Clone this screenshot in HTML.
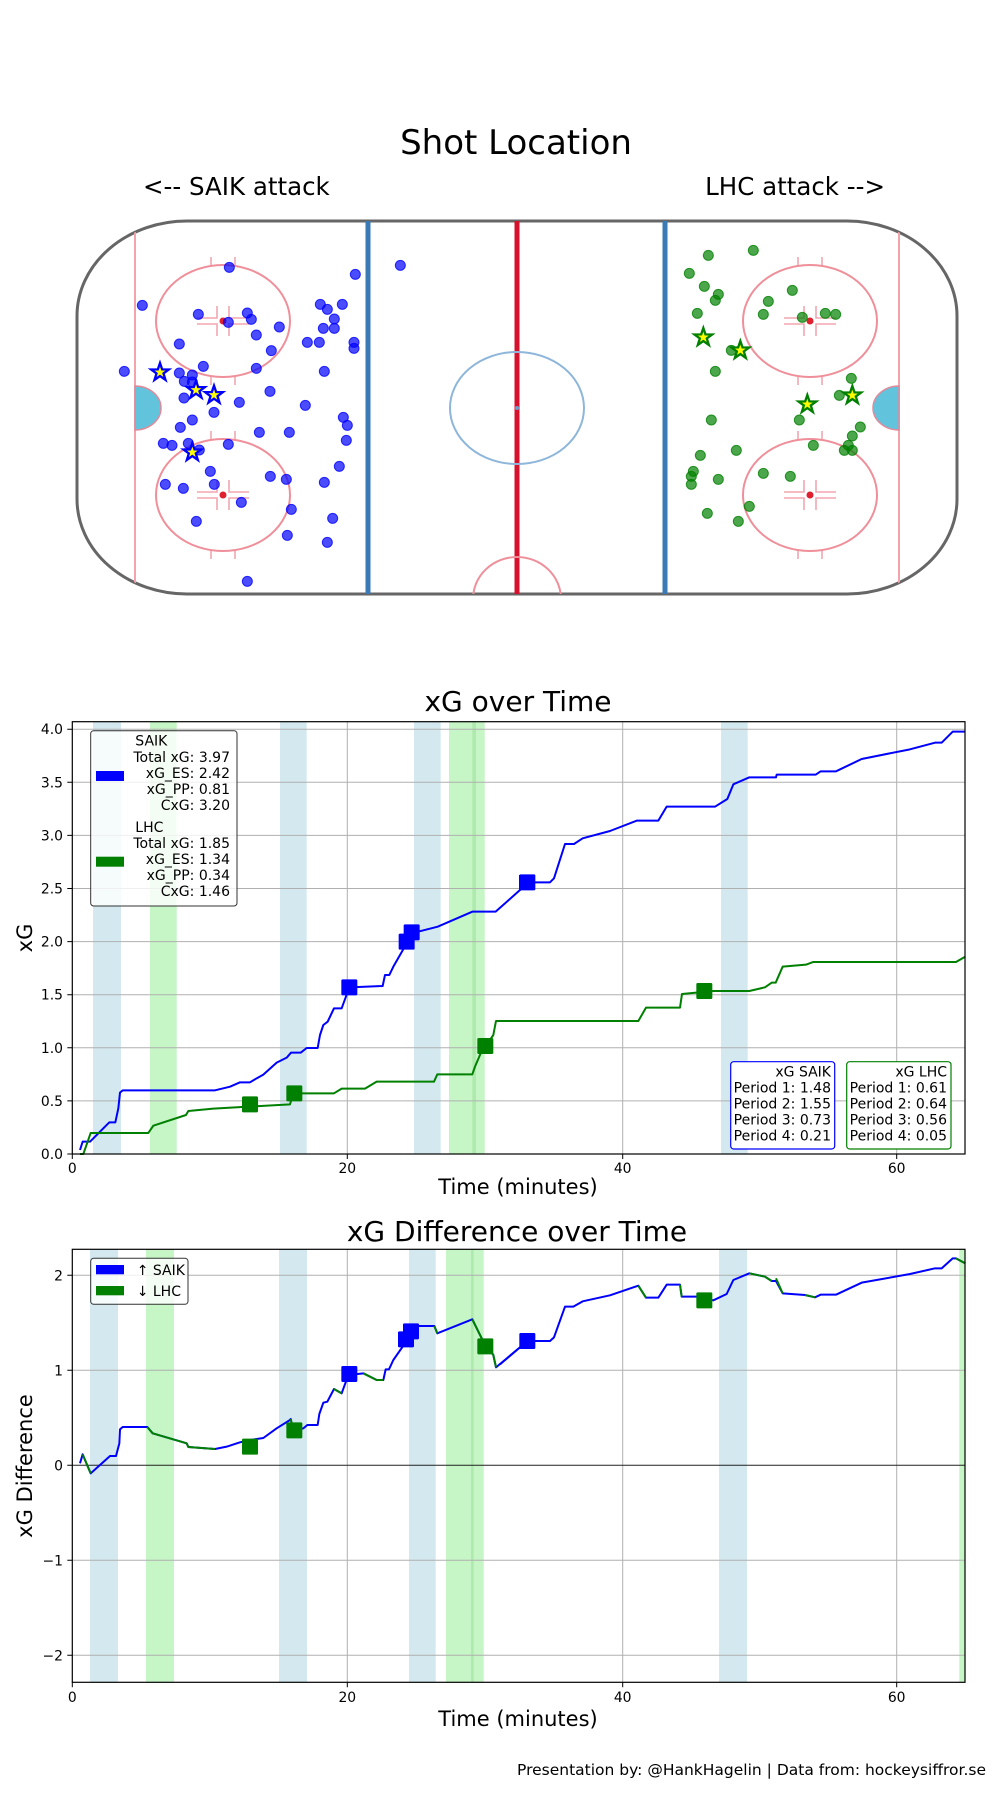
<!DOCTYPE html>
<html><head><meta charset="utf-8">
<style>
html,body{margin:0;padding:0;background:#fff;}
svg{display:block;font-family:"DejaVu Sans","Liberation Sans",sans-serif;}
</style></head>
<body>
<svg width="1000" height="1800" viewBox="0 0 1000 1800" xmlns="http://www.w3.org/2000/svg">
<defs>
<path id="star" d="M0,-28 L6.47,-8.9 L26.6,-8.65 L10.46,3.4 L16.46,22.65 L0,11 L-16.46,22.65 L-10.46,3.4 L-26.6,-8.65 L-6.47,-8.9 Z"/>
<clipPath id="rinkclip"><rect x="77" y="221" width="880" height="373" rx="110" ry="95"/></clipPath>
</defs>
<rect width="1000" height="1800" fill="#fff"/>

<!-- ===== Shot location ===== -->
<text x="516" y="154" font-size="34" text-anchor="middle">Shot Location</text>
<text x="143" y="195" font-size="24.5">&lt;-- SAIK attack</text>
<text x="885" y="195" font-size="24.5" text-anchor="end">LHC attack --&gt;</text>

<rect x="77" y="221" width="880" height="373" rx="110" ry="95" fill="#fff" stroke="#666" stroke-width="3"/>
<g clip-path="url(#rinkclip)">
 <line x1="135" y1="221" x2="135" y2="594" stroke="#f4a3ad" stroke-width="2"/>
 <line x1="899" y1="221" x2="899" y2="594" stroke="#f4a3ad" stroke-width="2"/>
 <line x1="368" y1="221" x2="368" y2="594" stroke="#3a7bb6" stroke-width="5"/>
 <line x1="665" y1="221" x2="665" y2="594" stroke="#3a7bb6" stroke-width="5"/>
 <line x1="517" y1="221" x2="517" y2="594" stroke="#d7102c" stroke-width="5"/>
 <ellipse cx="517" cy="408" rx="67" ry="56" fill="none" stroke="#8db6da" stroke-width="2"/>
 <circle cx="517" cy="408" r="2" fill="#6aa0d0"/>
 <ellipse cx="517" cy="599" rx="44" ry="42" fill="none" stroke="#ef8f9a" stroke-width="2"/>
 <path d="M135,386 A26,22 0 0 1 135,430 Z" fill="#62c3dd" stroke="#e08a9a" stroke-width="1.5"/>
 <path d="M899,386 A26,22 0 0 0 899,430 Z" fill="#62c3dd" stroke="#e08a9a" stroke-width="1.5"/>
 <g fill="none" stroke="#ef8f9a" stroke-width="2">
  <ellipse cx="223" cy="321" rx="67" ry="56"/>
  <ellipse cx="223" cy="495" rx="67" ry="56"/>
  <ellipse cx="810" cy="321" rx="67" ry="56"/>
  <ellipse cx="810" cy="495" rx="67" ry="56"/>
 </g>
 <g stroke="#f2a6b0" stroke-width="1.6" fill="none">
  <path d="M211,257v8M235,257v8M211,377v8M235,377v8M211,431v8M235,431v8M211,551v8M235,551v8"/>
  <path d="M798,257v8M822,257v8M798,377v8M822,377v8M798,431v8M822,431v8M798,551v8M822,551v8"/>
  <path d="M197,318h20v-12M197,324h20v12M249,318h-20v-12M249,324h-20v12"/>
  <path d="M197,492h20v-12M197,498h20v12M249,492h-20v-12M249,498h-20v12"/>
  <path d="M784,318h20v-12M784,324h20v12M836,318h-20v-12M836,324h-20v12"/>
  <path d="M784,492h20v-12M784,498h20v12M836,492h-20v-12M836,498h-20v12"/>
 </g>
 <g fill="#e0202e"><circle cx="223" cy="321" r="3.5"/><circle cx="223" cy="495" r="3.5"/><circle cx="810" cy="321" r="3.5"/><circle cx="810" cy="495" r="3.5"/></g>
</g>

<g transform="translate(60,160) scale(0.33333)" fill="rgba(0,0,255,0.7)" stroke="rgba(0,0,255,0.8)" stroke-width="3">
<circle cx="508" cy="322" r="15"/><circle cx="886" cy="343" r="15"/><circle cx="1021" cy="316" r="15"/><circle cx="247" cy="436" r="15"/><circle cx="415" cy="463" r="15"/><circle cx="562" cy="459" r="15"/><circle cx="574" cy="478" r="15"/><circle cx="505" cy="487" r="15"/><circle cx="589" cy="525" r="15"/><circle cx="658" cy="501" r="15"/><circle cx="781" cy="433" r="15"/><circle cx="802" cy="448" r="15"/><circle cx="847" cy="433" r="15"/><circle cx="823" cy="477" r="15"/><circle cx="790" cy="505" r="15"/><circle cx="823" cy="505" r="15"/><circle cx="358" cy="552" r="15"/><circle cx="634" cy="572" r="15"/><circle cx="742" cy="547" r="15"/><circle cx="778" cy="547" r="15"/><circle cx="882" cy="547" r="15"/><circle cx="882" cy="565" r="15"/><circle cx="193" cy="634" r="15"/><circle cx="358" cy="639" r="15"/><circle cx="397" cy="645" r="15"/><circle cx="430" cy="619" r="15"/><circle cx="589" cy="625" r="15"/><circle cx="793" cy="634" r="15"/><circle cx="373" cy="664" r="15"/><circle cx="397" cy="666" r="15"/><circle cx="372" cy="714" r="15"/><circle cx="538" cy="727" r="15"/><circle cx="630" cy="694" r="15"/><circle cx="736" cy="736" r="15"/><circle cx="462" cy="757" r="15"/><circle cx="397" cy="780" r="15"/><circle cx="361" cy="802" r="15"/><circle cx="850" cy="772" r="15"/><circle cx="862" cy="796" r="15"/><circle cx="859" cy="841" r="15"/><circle cx="598" cy="817" r="15"/><circle cx="688" cy="817" r="15"/><circle cx="310" cy="850" r="15"/><circle cx="336" cy="856" r="15"/><circle cx="385" cy="850" r="15"/><circle cx="418" cy="870" r="15"/><circle cx="505" cy="853" r="15"/><circle cx="838" cy="919" r="15"/><circle cx="451" cy="934" r="15"/><circle cx="316" cy="973" r="15"/><circle cx="370" cy="985" r="15"/><circle cx="463" cy="973" r="15"/><circle cx="631" cy="949" r="15"/><circle cx="679" cy="958" r="15"/><circle cx="793" cy="967" r="15"/><circle cx="544" cy="1027" r="15"/><circle cx="694" cy="1048" r="15"/><circle cx="409" cy="1084" r="15"/><circle cx="818" cy="1075" r="15"/><circle cx="682" cy="1126" r="15"/><circle cx="802" cy="1147" r="15"/><circle cx="562" cy="1264" r="15"/>
</g>
<g transform="translate(60,160) scale(0.33333)" fill="#ffff00" stroke="#0000ff" stroke-width="7">
<use href="#star" x="300" y="637"/><use href="#star" x="408" y="690"/><use href="#star" x="462" y="705"/><use href="#star" x="397" y="877"/>
</g>

<g transform="translate(500,160) scale(0.33333)" fill="rgba(0,128,0,0.7)" stroke="rgba(0,128,0,0.8)" stroke-width="3">
<circle cx="625" cy="286" r="15"/><circle cx="760" cy="271" r="15"/><circle cx="568" cy="340" r="15"/><circle cx="613" cy="379" r="15"/><circle cx="655" cy="403" r="15"/><circle cx="646" cy="421" r="15"/><circle cx="592" cy="460" r="15"/><circle cx="805" cy="424" r="15"/><circle cx="877" cy="391" r="15"/><circle cx="790" cy="463" r="15"/><circle cx="907" cy="472" r="15"/><circle cx="976" cy="460" r="15"/><circle cx="1007" cy="463" r="15"/><circle cx="694" cy="571" r="15"/><circle cx="646" cy="634" r="15"/><circle cx="1054" cy="655" r="15"/><circle cx="1018" cy="706" r="15"/><circle cx="634" cy="780" r="15"/><circle cx="898" cy="780" r="15"/><circle cx="1081" cy="801" r="15"/><circle cx="1057" cy="828" r="15"/><circle cx="940" cy="856" r="15"/><circle cx="1045" cy="856" r="15"/><circle cx="1033" cy="871" r="15"/><circle cx="1057" cy="871" r="15"/><circle cx="601" cy="886" r="15"/><circle cx="709" cy="871" r="15"/><circle cx="580" cy="934" r="15"/><circle cx="574" cy="949" r="15"/><circle cx="574" cy="973" r="15"/><circle cx="655" cy="958" r="15"/><circle cx="790" cy="940" r="15"/><circle cx="871" cy="949" r="15"/><circle cx="748" cy="1039" r="15"/><circle cx="622" cy="1060" r="15"/><circle cx="715" cy="1084" r="15"/>
</g>
<g transform="translate(500,160) scale(0.33333)" fill="#ffff00" stroke="#008000" stroke-width="7">
<use href="#star" x="610" y="532"/><use href="#star" x="721" y="571"/><use href="#star" x="922" y="733"/><use href="#star" x="1057" y="706"/>
</g>

<!-- ===== xG over Time ===== -->
<text x="518" y="711" font-size="28" text-anchor="middle">xG over Time</text>
<g fill="#d3e9ef">
 <rect x="93" y="721.7" width="28" height="432.3"/>
 <rect x="280" y="721.7" width="26.7" height="432.3"/>
 <rect x="414" y="721.7" width="26.7" height="432.3"/>
 <rect x="721" y="721.7" width="26.7" height="432.3"/>
</g>
<g fill="#c6f5c6">
 <rect x="150" y="721.7" width="26.7" height="432.3"/>
 <rect x="449" y="721.7" width="35.7" height="432.3"/>
</g>
<rect x="472.3" y="721.7" width="3.7" height="432.3" fill="#aeeaae"/>
<g stroke="#b0b0b0" stroke-width="1">
 <line x1="347.3" y1="721.7" x2="347.3" y2="1154"/><line x1="622.7" y1="721.7" x2="622.7" y2="1154"/><line x1="896.7" y1="721.7" x2="896.7" y2="1154"/>
 <line x1="72.3" y1="1100.9" x2="965" y2="1100.9"/><line x1="72.3" y1="1047.8" x2="965" y2="1047.8"/><line x1="72.3" y1="994.7" x2="965" y2="994.7"/><line x1="72.3" y1="941.6" x2="965" y2="941.6"/><line x1="72.3" y1="888.5" x2="965" y2="888.5"/><line x1="72.3" y1="835.4" x2="965" y2="835.4"/><line x1="72.3" y1="782.3" x2="965" y2="782.3"/><line x1="72.3" y1="729.2" x2="965" y2="729.2"/>
</g>
<g transform="translate(60,700) scale(0.33333)" fill="none" stroke-width="6" stroke-linejoin="round">
 <polyline stroke="#0000ff" points="60,1350 68,1325 90,1325 148,1267 166,1267 175,1225 180,1178 188,1171 465,1171 490,1165 510,1160 540,1147 570,1147 590,1135 610,1124 650,1088 680,1073 693,1058 722,1058 740,1044 773,1044 780,1005 790,975 803,965 822,925 845,925 868,862 968,858 975,825 988,825 1000,800 1040,730 1055,700 1133,680 1237,635 1307,635 1380,570 1380,525"/>
 <polyline stroke="#008000" points="60,1362 70,1362 92,1299 265,1299 280,1277 378,1245 385,1233 460,1226 690,1213 700,1180 822,1180 845,1166 915,1166 950,1145 1122,1145 1132,1123 1237,1123 1245,1100 1262,1060 1300,1005 1308,963 1380,963"/>
</g>
<g transform="translate(500,700) scale(0.33333)" fill="none" stroke-width="6" stroke-linejoin="round">
 <polyline stroke="#0000ff" points="60,570 82,547 150,547 162,535 195,432 222,432 248,415 330,393 410,362 475,362 500,320 645,320 682,297 700,253 748,232 828,232 830,224 947,224 962,214 1008,214 1085,177 1230,148 1305,128 1325,128 1358,95 1396,95"/>
 <polyline stroke="#008000" points="0,963 415,963 438,923 540,923 546,882 640,873 748,873 795,862 815,848 827,848 848,800 918,794 940,786 1368,786 1396,770"/>
</g>
<g transform="translate(60,700) scale(0.33333)">
 <rect x="844" y="838" width="48" height="48" rx="4" fill="#0000ff"/>
 <rect x="1016" y="701" width="48" height="48" rx="4" fill="#0000ff"/>
 <rect x="1031" y="673" width="48" height="48" rx="4" fill="#0000ff"/>
 <rect x="546" y="1189" width="48" height="48" rx="4" fill="#008000"/>
 <rect x="679" y="1156" width="48" height="48" rx="4" fill="#008000"/>
 <rect x="1252" y="1014" width="48" height="48" rx="4" fill="#008000"/>
</g>
<g transform="translate(500,700) scale(0.33333)">
 <rect x="58" y="523" width="48" height="48" rx="4" fill="#0000ff"/>
 <rect x="589" y="849" width="48" height="48" rx="4" fill="#008000"/>
</g>
<!-- legend 1 -->
<rect x="90.7" y="730.7" width="146.3" height="175.3" rx="3" fill="rgba(255,255,255,0.8)" stroke="#333" stroke-width="1"/>
<rect x="96" y="771" width="28" height="10" fill="#0000ff"/>
<rect x="96" y="856.7" width="28" height="10" fill="#008000"/>
<g font-size="14">
 <text x="135.3" y="745.7">SAIK</text>
 <g text-anchor="end">
  <text x="230" y="762">Total xG: 3.97</text><text x="230" y="778">xG_ES: 2.42</text><text x="230" y="794">xG_PP: 0.81</text><text x="230" y="810">CxG: 3.20</text>
 </g>
 <text x="135.3" y="832">LHC</text>
 <g text-anchor="end">
  <text x="230" y="848">Total xG: 1.85</text><text x="230" y="864">xG_ES: 1.34</text><text x="230" y="880">xG_PP: 0.34</text><text x="230" y="896">CxG: 1.46</text>
 </g>
</g>
<!-- period boxes -->
<rect x="730.7" y="1061.7" width="104" height="87.3" rx="3" fill="#fff" stroke="#0000ff" stroke-width="1.2"/>
<rect x="846.7" y="1061.7" width="104.3" height="87.3" rx="3" fill="#fff" stroke="#008000" stroke-width="1.2"/>
<g font-size="14" text-anchor="end">
 <text x="831" y="1076.7">xG SAIK</text><text x="831" y="1092.7">Period 1: 1.48</text><text x="831" y="1108.7">Period 2: 1.55</text><text x="831" y="1124.7">Period 3: 0.73</text><text x="831" y="1140.7">Period 4: 0.21</text>
 <text x="947" y="1076.7">xG LHC</text><text x="947" y="1092.7">Period 1: 0.61</text><text x="947" y="1108.7">Period 2: 0.64</text><text x="947" y="1124.7">Period 3: 0.56</text><text x="947" y="1140.7">Period 4: 0.05</text>
</g>
<rect x="72.3" y="721.7" width="892.7" height="432.3" fill="none" stroke="#000" stroke-width="1.2"/>
<g stroke="#000" stroke-width="1">
 <path d="M72.3,1154v5M347.3,1154v5M622.7,1154v5M896.7,1154v5"/>
 <path d="M72.3,1154h-5M72.3,1100.9h-5M72.3,1047.8h-5M72.3,994.7h-5M72.3,941.6h-5M72.3,888.5h-5M72.3,835.4h-5M72.3,782.3h-5M72.3,729.2h-5"/>
</g>
<g font-size="13.9">
 <g text-anchor="middle"><text x="72.3" y="1173">0</text><text x="347.3" y="1173">20</text><text x="622.7" y="1173">40</text><text x="896.7" y="1173">60</text></g>
 <g text-anchor="end"><text x="63" y="1159">0.0</text><text x="63" y="1105.9">0.5</text><text x="63" y="1052.8">1.0</text><text x="63" y="999.7">1.5</text><text x="63" y="946.6">2.0</text><text x="63" y="893.5">2.5</text><text x="63" y="840.4">3.0</text><text x="63" y="787.3">3.5</text><text x="63" y="734.2">4.0</text></g>
</g>
<text x="518" y="1194" font-size="21" text-anchor="middle">Time (minutes)</text>
<text transform="translate(32,938) rotate(-90)" font-size="21" text-anchor="middle">xG</text>

<!-- ===== xG Difference ===== -->
<text x="517" y="1241" font-size="28" text-anchor="middle">xG Difference over Time</text>
<g fill="#d3e9ef">
 <rect x="90" y="1249.3" width="28" height="433"/>
 <rect x="279" y="1249.3" width="28" height="433"/>
 <rect x="409" y="1249.3" width="26.7" height="433"/>
 <rect x="719" y="1249.3" width="28" height="433"/>
</g>
<g fill="#c6f5c6">
 <rect x="146" y="1249.3" width="28" height="433"/>
 <rect x="446" y="1249.3" width="37.7" height="433"/>
 <rect x="959.3" y="1249.3" width="6" height="433"/>
</g>
<rect x="471" y="1249.3" width="2.7" height="433" fill="#aeeaae"/>
<g stroke="#b0b0b0" stroke-width="1">
 <line x1="347.3" y1="1249.3" x2="347.3" y2="1682.3"/><line x1="622.7" y1="1249.3" x2="622.7" y2="1682.3"/><line x1="896.7" y1="1249.3" x2="896.7" y2="1682.3"/>
 <line x1="72.3" y1="1275.3" x2="965" y2="1275.3"/><line x1="72.3" y1="1370.3" x2="965" y2="1370.3"/><line x1="72.3" y1="1560.3" x2="965" y2="1560.3"/><line x1="72.3" y1="1655.3" x2="965" y2="1655.3"/>
</g>
<line x1="72.3" y1="1465.3" x2="965" y2="1465.3" stroke="#222" stroke-width="1"/>
<g transform="translate(40,1210) scale(0.33333)" fill="none" stroke-width="6" stroke-linejoin="round">
 <polyline stroke="#0000ff" points="120,760 128,733 152,790 210,738 228,738 238,700 240,658 248,651 322,651 338,670 440,700 445,711 525,717 560,710 600,697 630,690 670,684 710,655 750,630 752,627 760,660 790,655 802,645 833,645 838,612 850,578 862,575 882,537 905,550 925,495 970,490 1010,510 1030,510 1037,478 1047,478 1060,450 1095,400 1115,362 1135,348 1183,348 1192,370 1297,328 1325,385 1360,435 1368,472 1440,412"/>
 <g stroke="#008000">
  <polyline points="128,733 152,790"/>
  <polyline points="322,651 338,670 440,700 445,711 525,717"/>
  <polyline points="752,627 760,660"/>
  <polyline points="882,537 905,550"/>
  <polyline points="970,490 1010,510 1030,510"/>
  <polyline points="1183,348 1192,370"/>
  <polyline points="1297,328 1325,385 1360,435 1368,472"/>
 </g>
</g>
<g transform="translate(500,1210) scale(0.33333)" fill="none" stroke-width="6" stroke-linejoin="round">
 <polyline stroke="#0000ff" points="0,463 82,393 150,393 162,382 195,290 220,290 248,274 330,256 415,227 438,263 475,263 500,224 540,224 545,260 590,260 640,271 680,252 700,210 748,190 795,200 815,213 828,213 848,250 915,255 945,262 962,254 1008,254 1085,218 1230,192 1305,175 1325,175 1358,145 1368,145 1396,160"/>
 <g stroke="#008000">
  <polyline points="415,227 438,263"/>
  <polyline points="540,224 545,260"/>
  <polyline points="748,190 795,200 815,213"/>
  <polyline points="828,205 848,250"/>
  <polyline points="915,255 945,262"/>
  <polyline points="1368,145 1396,160"/>
 </g>
</g>
<g transform="translate(40,1210) scale(0.33333)">
 <rect x="904" y="468" width="48" height="48" rx="4" fill="#0000ff"/>
 <rect x="1074" y="364" width="48" height="48" rx="4" fill="#0000ff"/>
 <rect x="1089" y="340" width="48" height="48" rx="4" fill="#0000ff"/>
 <rect x="606" y="686" width="48" height="48" rx="4" fill="#008000"/>
 <rect x="739" y="637" width="48" height="48" rx="4" fill="#008000"/>
 <rect x="1312" y="385" width="48" height="48" rx="4" fill="#008000"/>
</g>
<g transform="translate(500,1210) scale(0.33333)">
 <rect x="58" y="369" width="48" height="48" rx="4" fill="#0000ff"/>
 <rect x="589" y="247" width="48" height="48" rx="4" fill="#008000"/>
</g>
<rect x="90.7" y="1258.3" width="97.3" height="46" rx="3" fill="rgba(255,255,255,0.8)" stroke="#333" stroke-width="1"/>
<rect x="96" y="1265" width="28" height="9.3" fill="#0000ff"/>
<rect x="96" y="1286" width="28" height="9.3" fill="#008000"/>
<g font-size="14"><text x="136.7" y="1275">↑ SAIK</text><text x="136.7" y="1296">↓ LHC</text></g>
<rect x="72.3" y="1249.3" width="892.7" height="433" fill="none" stroke="#000" stroke-width="1.2"/>
<g stroke="#000" stroke-width="1">
 <path d="M72.3,1682.3v5M347.3,1682.3v5M622.7,1682.3v5M896.7,1682.3v5"/>
 <path d="M72.3,1275.3h-5M72.3,1370.3h-5M72.3,1465.3h-5M72.3,1560.3h-5M72.3,1655.3h-5"/>
</g>
<g font-size="13.9">
 <g text-anchor="middle"><text x="72.3" y="1702">0</text><text x="347.3" y="1702">20</text><text x="622.7" y="1702">40</text><text x="896.7" y="1702">60</text></g>
 <g text-anchor="end"><text x="63" y="1280.3">2</text><text x="63" y="1375.3">1</text><text x="63" y="1470.3">0</text><text x="63" y="1565.3">−1</text><text x="63" y="1660.3">−2</text></g>
</g>
<text x="518" y="1726" font-size="21" text-anchor="middle">Time (minutes)</text>
<text transform="translate(32,1466) rotate(-90)" font-size="21" text-anchor="middle">xG Difference</text>

<text x="986" y="1775" font-size="15.5" text-anchor="end">Presentation by: @HankHagelin | Data from: hockeysiffror.se</text>
</svg>
</body></html>
